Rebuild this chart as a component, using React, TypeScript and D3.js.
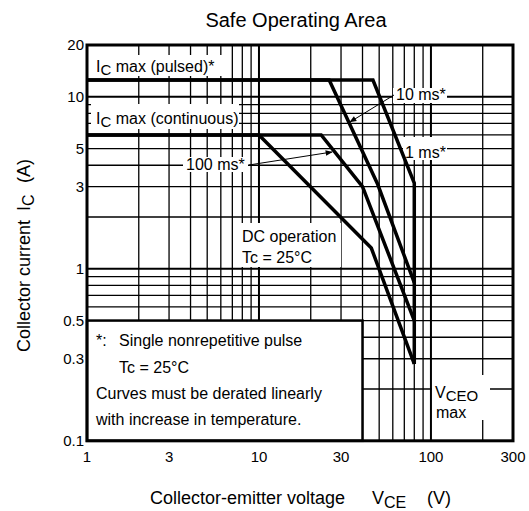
import React from "react";
import * as d3 from "d3";

// grid values
const xGrid = [2, 3, 4, 5, 6, 7, 8, 9, 10, 20, 30, 40, 50, 60, 70, 80, 90, 100, 200];
const yGrid = [0.2, 0.3, 0.4, 0.5, 0.6, 0.7, 0.8, 0.9, 1, 2, 3, 4, 5, 6, 7, 8, 9, 10];
const majorLines = [10, 100, 1];
const xTicks = [1, 3, 10, 30, 100, 300];
const yTicks = [0.1, 0.3, 0.5, 1, 3, 5, 10, 20];

// curves: [VCE, IC]
const curve1ms = [[1, 12.5], [46, 12.5], [80, 3.15], [80, 0.28]];
const curve10ms = [[1, 12.5], [25.6, 12.5], [49, 3.1], [80, 0.83]];
const curve100ms = [[1, 6], [23, 6], [40, 3], [80, 0.5]];
const curveDC = [[1, 6], [10, 6], [45, 1.32], [80, 0.28]];
const curves = [curve1ms, curve10ms, curve100ms, curveDC];

const FONT = "'Liberation Sans', Arial, Helvetica, sans-serif";
const W = 529;
const H = 511;

const App = () => {
  const x = d3.scaleLog().domain([1, 300]).range([87, 513]);
  const y = d3.scaleLog().domain([0.1, 20]).range([440.8, 45]);
  const line = d3
    .line<number[]>()
    .x(d => x(d[0]))
    .y(d => y(d[1]));

  const [x0, x1] = x.range();
  const [y0, y1] = y.range();

  // white boxes behind annotations
  const labelBoxes = [
    [92, 55, 138, 21],
    [91, 104, 148, 25],
    [393, 88, 54, 15],
    [403, 137, 44, 23],
    [183, 157, 65, 15],
    [238, 223, 103, 44],
    [432, 375, 58, 45],
  ];

  const gridW = v => (majorLines.includes(v) ? 2 : 1.3);

  return (
    <div style={{ position: "absolute", left: 0, top: 0 }}>
      <svg width={W} height={H} style={{ display: "block", background: "#fff" }} fontFamily={FONT}>
        <defs>
          <marker id="arr" viewBox="0 0 10 10" refX="9" refY="5" markerWidth="9" markerHeight="7" orient="auto-start-reverse" markerUnits="userSpaceOnUse">
            <path d="M0,1 L10,5 L0,9 z" fill="#000" />
          </marker>
        </defs>

        <text x={296} y={27} fontSize={20} textAnchor="middle">Safe Operating Area</text>

        {/* grid */}
        <g stroke="#000">
          {xGrid.map(v => (
            <line key={"x" + v} x1={x(v)} x2={x(v)} y1={y1} y2={y0} strokeWidth={gridW(v)} />
          ))}
          {yGrid.map(v => (
            <line key={"y" + v} x1={x0} x2={x1} y1={y(v)} y2={y(v)} strokeWidth={gridW(v)} />
          ))}
        </g>

        {labelBoxes.map((b, i) => (
          <rect key={i} x={b[0]} y={b[1]} width={b[2]} height={b[3]} fill="#fff" />
        ))}

        {/* note box */}
        <rect
          x={x(1)}
          y={y(0.5)}
          width={x(40) - x(1)}
          height={y(0.1) - y(0.5)}
          fill="#fff"
          stroke="#000"
          strokeWidth={2.5}
        />

        {curves.map((c, i) => (
          <path key={i} d={line(c)} fill="none" stroke="#000" strokeWidth={3.5} strokeLinejoin="miter" />
        ))}

        {/* arrows */}
        <line x1={394} y1={95} x2={350} y2={122} stroke="#000" strokeWidth={1} markerEnd="url(#arr)" />
        <line x1={249} y1={165} x2={332} y2={152} stroke="#000" strokeWidth={1} markerEnd="url(#arr)" />

        {/* annotations */}
        <g fontSize={16} fill="#000">
          <text x={96} y={72}>
            I<tspan fontSize={15} dy={3}>C</tspan>
            <tspan dy={-3}> max (pulsed)*</tspan>
          </text>
          <text x={96} y={124}>
            I<tspan fontSize={15} dy={3}>C</tspan>
            <tspan dy={-3}> max (continuous)</tspan>
          </text>
          <text x={396} y={100}>10 ms*</text>
          <text x={405} y={157.5}>1 ms*</text>
          <text x={186} y={170}>100 ms*</text>
          <text x={242} y={242}>DC operation</text>
          <text x={242} y={263}>Tc = 25°C</text>
          <text x={435} y={398}>
            V<tspan fontSize={15} dy={3}>CEO</tspan>
          </text>
          <text x={436} y={418}>max</text>

          <text x={96} y={346}>*:</text>
          <text x={119} y={346}>Single nonrepetitive pulse</text>
          <text x={119} y={373}>Tc = 25°C</text>
          <text x={96} y={399}>Curves must be derated linearly</text>
          <text x={96} y={425}>with increase in temperature.</text>
        </g>

        {/* frame */}
        <rect x={x0} y={y1} width={x1 - x0} height={y0 - y1} fill="none" stroke="#000" strokeWidth={3} />

        {/* tick labels */}
        <g fontSize={15} fill="#000">
          {xTicks.map(v => (
            <text key={"xt" + v} x={x(v)} y={462} textAnchor="middle">{v}</text>
          ))}
          {yTicks.map(v => (
            <text key={"yt" + v} x={84} y={y(v) + 5} textAnchor="end">{v}</text>
          ))}
        </g>

        {/* axis titles */}
        <g fontSize={18} fill="#000">
          <text x={150} y={504}>Collector-emitter voltage</text>
          <text x={372} y={504}>
            V<tspan fontSize={16} dy={4}>CE</tspan>
          </text>
          <text x={427} y={504}>(V)</text>
          <g transform="translate(30,0) rotate(-90)">
            <text x={-352} y={0}>Collector current</text>
            <text x={-211} y={0}>
              I<tspan fontSize={16} dy={4}>C</tspan>
            </text>
            <text x={-183} y={0}>(A)</text>
          </g>
        </g>
      </svg>
    </div>
  );
};

export default App;
